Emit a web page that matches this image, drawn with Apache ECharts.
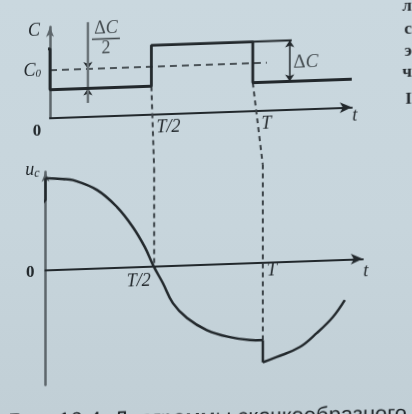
<!DOCTYPE html>
<html>
<head>
<meta charset="utf-8">
<script src="https://cdn.jsdelivr.net/npm/echarts@6/dist/echarts.min.js"></script>
<style>
html,body{margin:0;padding:0;width:412px;height:414px;overflow:hidden;
  background:linear-gradient(180deg,#cad8df 0%,#c7d5dc 55%,#c1cfd6 100%);}
#chart{position:absolute;left:0;top:0;width:412px;height:434px;
  transform:skewY(-2deg);transform-origin:0 0;}
</style>
</head>
<body>
<div id="chart"></div>
<script>
// ---------------- data (time in units of the period T) ----------------
const topTickValues = [0, 0.5, 1];
const topTickLabels = ['0', 'T/2', 'T'];
const bottomTickValues = [0.5, 1];
const bottomTickLabels = ['T/2', 'T'];

// top panel: capacitance C(t)
const C0 = 1.0;
const cHigh = 1.45;
const cLow = 0.59;
const capStep = [[-0.059, 1.45], [0, 1.45], [0, 0.59], [0.5, 0.59], [0.5, 1.45], [1, 1.45], [1, 0.59], [1.488, 0.59]];
const c0Line = [[0, 1.0], [1.069, 1.0]];
const highExt = [[1, 1.45], [1.192, 1.45]];
const dCArrow = [[1.182, 1.45], [1.182, 0.59]];
const halfMarkLine = [[0.187, 1.985], [0.187, 0.284]];
const halfArrowTop = [[0.187, 1.30], [0.187, 1.0]];
const halfArrowBottom = [[0.187, 0.35], [0.187, 0.59]];
const guideTopHalf = [[0.5, 0.59], [0.5135, -1.134]];
const guideTopT = [[1, 0.59], [1.049, -1.134]];
const fracPos = [[0.276, 1.62]];
const dCPos = [[1.261, 0.985]];

// bottom panel: capacitor voltage u_c(t)
const ucStub = [[-0.039, 0.66], [0, 0.761], [0, 1.0]];
const ucSeg1 = [[0, 1.0], [0.080, 0.984], [0.126, 0.968], [0.237, 0.851], [0.329, 0.658], [0.402, 0.433],
  [0.457, 0.210], [0.497, 0.0], [0.540, -0.189], [0.586, -0.411], [0.651, -0.579], [0.742, -0.718],
  [0.848, -0.804], [0.940, -0.844], [1.0, -0.850]];
const ucJump = [[1, -0.850], [1, -1.092]];
const ucSeg2 = [[1, -1.092], [1.064, -1.039], [1.170, -0.939], [1.248, -0.793], [1.322, -0.625], [1.377, -0.444]];
const guideBottomHalf = [[0.5, 1.0665], [0.5, 0]];
const guideBottomT = [[1, 1.0665], [1, -0.850]];

const caption = 'Рис. 10.4. Диаграммы скачкообразного';
const edgeLetters = ['л', 'с', 'э', 'ч', 'I'];

// ---------------- styles ----------------
const ink = '#22282c';
const axisGray = '#5d666b';
const serif = "'Liberation Serif','DejaVu Serif',serif";
const it = {fontFamily: serif, fontStyle: 'italic', fontSize: 18, color: ink};

const chart = echarts.init(document.getElementById('chart'), null, {renderer: 'canvas'});

function lineS(data, grid, opt) {
  return Object.assign({
    type: 'line', data: data, xAxisIndex: grid, yAxisIndex: grid,
    symbol: 'none', clip: false, silent: true, animation: false,
    lineStyle: {color: ink, width: 2.5}
  }, opt || {});
}
function arrowS(coords, grid, sym, opt) {
  return Object.assign({
    type: 'lines', coordinateSystem: 'cartesian2d', xAxisIndex: grid, yAxisIndex: grid,
    data: [{coords: coords}], symbol: sym, symbolSize: 7, silent: true, animation: false,
    lineStyle: {color: ink, width: 1.5, opacity: 1}
  }, opt || {});
}
function labelS(pos, grid, formatter, rich) {
  return {
    type: 'scatter', data: pos, xAxisIndex: grid, yAxisIndex: grid, symbolSize: 1,
    itemStyle: {color: 'rgba(0,0,0,0)'}, silent: true, animation: false, clip: false,
    label: {show: true, position: 'inside', formatter: formatter, rich: rich}
  };
}

const topStyles = ['z', 'h', 'f'];
const bottomStyles = ['h', 'f'];
const bottomYMin = -1.256, bottomYMax = 1.0665, bottomGridH = 213;
const letterTops = [12, 35, 57, 78, 105];

const option = {
  backgroundColor: 'transparent',
  animation: false,
  title: edgeLetters.map(function (ch, i) {
    return {text: ch, right: 0, top: letterTops[i], padding: 0,
      textStyle: {fontSize: 17, fontWeight: 'bold', fontFamily: 'Liberation Serif', color: '#262b2f'}};
  }),
  grid: [
    {left: 50, top: 28.75, width: 302, height: 90.85, outerBoundsMode: 'none', containLabel: false},
    {left: 45.5, top: 173.6, width: 317.5, height: bottomGridH, outerBoundsMode: 'none', containLabel: false}
  ],
  xAxis: [
    {
      gridIndex: 0, type: 'value', min: 0, max: 1.488,
      axisLine: {onZero: true, symbol: ['none', 'arrow'], symbolSize: [8, 12], lineStyle: {color: ink, width: 2}},
      axisTick: {show: false}, splitLine: {show: false},
      axisLabel: {
        customValues: topTickValues, margin: 5, showMinLabel: true, showMaxLabel: true,
        formatter: function (v) {
          const i = topTickValues.indexOf(v);
          return i < 0 ? '' : '{' + topStyles[i] + '|' + topTickLabels[i] + '}';
        },
        rich: {
          z: {fontFamily: serif, fontWeight: 'bold', fontSize: 17, color: ink, padding: [0, 26, 0, 0]},
          h: Object.assign({}, it, {padding: [0, 0, 0, 34]}),
          f: Object.assign({}, it, {padding: [0, 0, 0, 27]})
        }
      },
      name: 't', nameLocation: 'end', nameGap: 3,
      nameTextStyle: Object.assign({}, it, {align: 'center', verticalAlign: 'top', padding: [0, 0, 0, 0]})
    },
    {
      gridIndex: 1, type: 'value', min: 0, max: 1.4598, position: 'bottom',
      // place the axis at u_c = 0 (labels follow the line)
      offset: -bottomGridH * (0 - bottomYMin) / (bottomYMax - bottomYMin),
      axisLine: {onZero: false, symbol: ['none', 'arrow'], symbolSize: [8, 12], lineStyle: {color: ink, width: 2}},
      axisTick: {show: false}, splitLine: {show: false},
      axisLabel: {
        customValues: bottomTickValues, margin: 0, showMinLabel: true, showMaxLabel: true,
        formatter: function (v) {
          const i = bottomTickValues.indexOf(v);
          return i < 0 ? '' : '{' + bottomStyles[i] + '|' + bottomTickLabels[i] + '}';
        },
        rich: {
          h: Object.assign({}, it, {padding: [6, 31, 0, 0]}),
          f: Object.assign({}, it, {padding: [0, 0, 0, 18]})
        }
      },
      name: 't', nameLocation: 'end', nameGap: 3,
      nameTextStyle: Object.assign({}, it, {align: 'center', verticalAlign: 'top', padding: [4, 0, 0, 0]})
    }
  ],
  yAxis: [
    {
      gridIndex: 0, type: 'value', min: 0, max: 1.909,
      axisLine: {onZero: true, symbol: ['none', 'arrow'], symbolSize: [6, 10], lineStyle: {color: axisGray, width: 2.5}},
      axisTick: {show: false}, splitLine: {show: false},
      axisLabel: {
        customValues: [C0], margin: 9, showMinLabel: false, showMaxLabel: false,
        formatter: function (v) { return v === C0 ? '{c|C}{s|0}' : ''; },
        rich: {
          c: Object.assign({}, it, {fontSize: 18}),
          s: Object.assign({}, it, {fontSize: 11, padding: [7, 0, 0, 0]})
        }
      },
      name: 'C', nameLocation: 'end', nameGap: -4,
      nameTextStyle: Object.assign({}, it, {align: 'right', verticalAlign: 'middle', padding: [0, 10, 0, 0]})
    },
    {
      gridIndex: 1, type: 'value', min: bottomYMin, max: bottomYMax,
      axisLine: {onZero: true, symbol: ['none', 'arrow'], symbolSize: [6, 10], lineStyle: {color: axisGray, width: 2.5}},
      axisTick: {show: false}, splitLine: {show: false},
      axisLabel: {
        customValues: [0], margin: 11, showMinLabel: false, showMaxLabel: false,
        formatter: function (v) { return v === 0 ? '{z|0}' : ''; },
        rich: {z: {fontFamily: serif, fontWeight: 'bold', fontSize: 17, color: ink, padding: [5, 0, 0, 0]}}
      },
      name: '{u|u}{c|c}', nameLocation: 'end', nameGap: 2,
      nameTextStyle: {
        align: 'right', verticalAlign: 'middle', padding: [0, 6, 0, 0],
        rich: {
          u: Object.assign({}, it, {fontSize: 18}),
          c: Object.assign({}, it, {fontSize: 12, padding: [7, 0, 0, 0]})
        }
      }
    }
  ],
  graphic: [
    {type: 'text', left: 8, top: 412, rotation: -0.014, silent: true,
      style: {text: caption, fontSize: 22, fontFamily: 'Liberation Sans', fill: '#1e2428'}}
  ],
  series: [
    // top panel
    lineS(c0Line, 0, {lineStyle: {color: ink, width: 1.5, type: [7, 5]}}),
    lineS(guideTopHalf, 0, {lineStyle: {color: '#3b4247', width: 2, type: [5, 4]}}),
    lineS(guideTopT, 0, {lineStyle: {color: '#3b4247', width: 2, type: [5, 4]}}),
    lineS(halfMarkLine, 0, {lineStyle: {color: '#6a7378', width: 2.5}}),
    arrowS(halfArrowTop, 0, ['none', 'arrow']),
    arrowS(halfArrowBottom, 0, ['none', 'arrow']),
    lineS(highExt, 0, {lineStyle: {color: ink, width: 2}}),
    arrowS(dCArrow, 0, ['arrow', 'arrow']),
    lineS(capStep, 0, {lineStyle: {color: ink, width: 2.8}}),
    labelS(fracPos, 0, '{n|Δ}{c|C}\n{b| }\n{d|2}', {
      n: {fontFamily: serif, fontSize: 18, color: ink, lineHeight: 17},
      c: Object.assign({}, it, {fontSize: 18, lineHeight: 17}),
      b: {width: 28, height: 1.6, lineHeight: 3, backgroundColor: ink},
      d: {fontFamily: serif, fontSize: 18, color: ink, lineHeight: 17}
    }),
    labelS(dCPos, 0, '{n|Δ}{c|C}', {
      n: {fontFamily: serif, fontSize: 19, color: ink},
      c: Object.assign({}, it, {fontSize: 19})
    }),
    // bottom panel
    lineS(guideBottomHalf, 1, {lineStyle: {color: '#3b4247', width: 2, type: [5, 4]}}),
    lineS(guideBottomT, 1, {lineStyle: {color: '#3b4247', width: 2, type: [5, 4]}}),
    lineS(ucStub, 1, {lineStyle: {color: ink, width: 2.5}}),
    lineS(ucSeg1, 1, {smooth: 0.4, lineStyle: {color: ink, width: 2.5}}),
    lineS(ucJump, 1, {lineStyle: {color: ink, width: 2.5}}),
    lineS(ucSeg2, 1, {smooth: 0.4, lineStyle: {color: ink, width: 2.5}})
  ]
};
chart.setOption(option);
</script>
</body>
</html>
